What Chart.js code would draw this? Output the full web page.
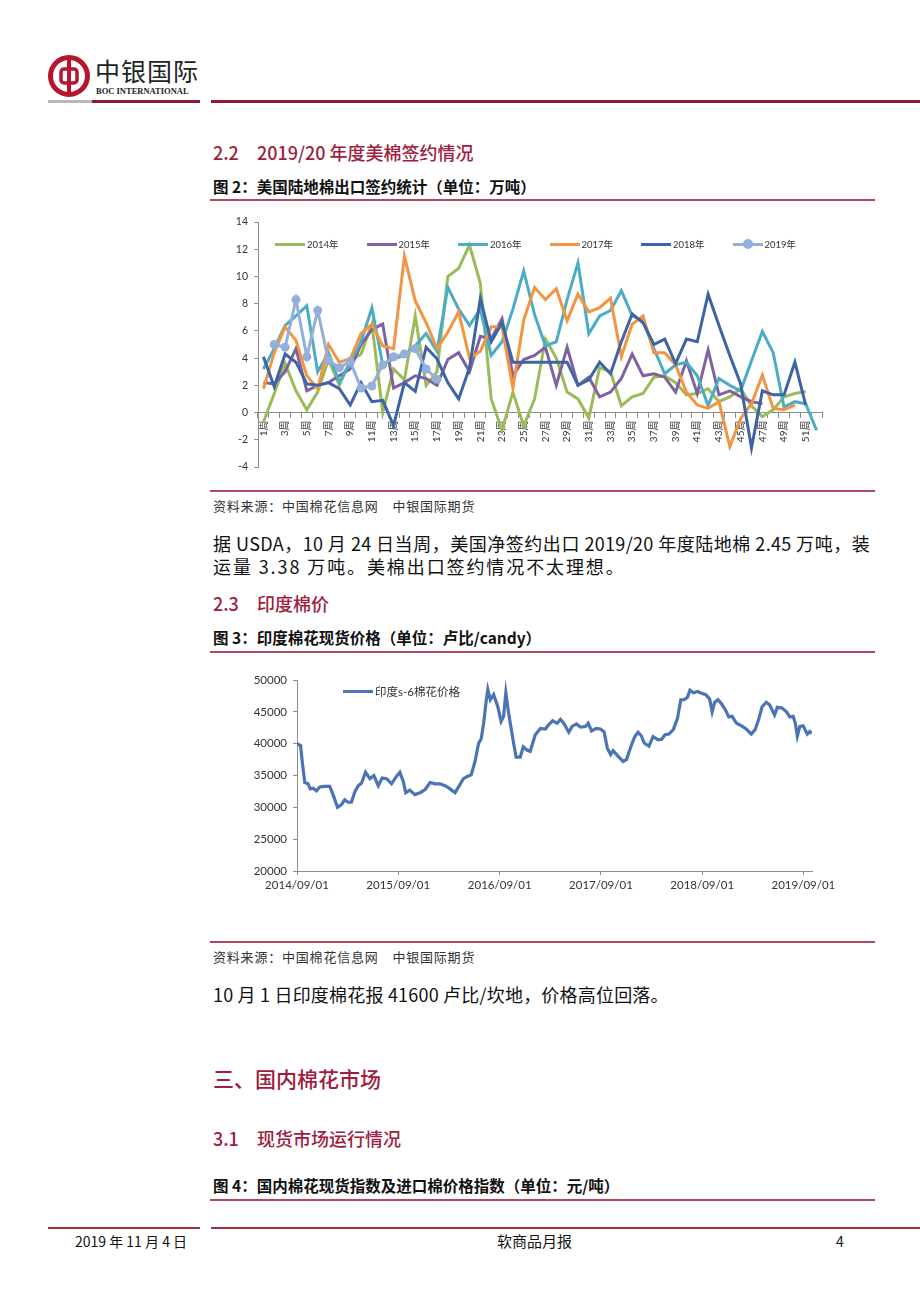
<!DOCTYPE html>
<html lang="zh">
<head>
<meta charset="utf-8">
<title>软商品月报</title>
<script src="https://cdn.jsdelivr.net/npm/chart.js@4.4.1/dist/chart.umd.min.js"></script>
<style>
  body { margin: 0; background: #fff; }
  #page { position: relative; width: 920px; height: 1302px; overflow: hidden; background: #fff;
          font-family: "Noto Sans CJK SC", sans-serif; color: #111; }
  .abs { position: absolute; white-space: nowrap; }
  .head { color: #A0203C; font-size: 18px; line-height: 22px; font-weight: 500; }
  .cap { font-size: 15.5px; line-height: 20px; font-weight: bold; color: #111; }
  .src { font-size: 13px; line-height: 18px; color: #333; letter-spacing: 0.8px; }
  .txt { font-size: 18px; line-height: 23px; color: #111; letter-spacing: 0.3px; }
  .rule { position: absolute; height: 1.5px; background: #B24A5C; }
  .legend { position: absolute; display: flex; font-family: Lato, "Noto Sans CJK SC", sans-serif; color: #333; }
  .legend .item { display: flex; align-items: center; }
  .legend .swatch { position: relative; width: 30px; height: 3px; margin-right: 2px; }
  .legend .dot { position: absolute; left: 10px; top: -3.5px; width: 10px; height: 10px; border-radius: 50%; }
</style>
</head>
<body>
<div id="page">
  <!-- header -->
  <svg class="abs" style="left:47px;top:54px" width="44" height="44" viewBox="0 0 44 44">
    <circle cx="22" cy="22" r="18.5" fill="none" stroke="#B5162B" stroke-width="5"/>
    <rect x="14" y="15" width="16" height="14" rx="3" fill="none" stroke="#B5162B" stroke-width="3.5"/>
    <rect x="20" y="3" width="4" height="38" fill="#B5162B"/>
  </svg>
  <div class="abs" style="left:95px;top:55px;font-size:25px;line-height:30px;color:#222;letter-spacing:1px;">中银国际</div>
  <div class="abs" style="left:96px;top:86px;font-family:'Liberation Serif',serif;font-weight:bold;font-size:8.5px;line-height:11px;color:#222;">BOC INTERNATIONAL</div>
  <div class="abs" style="left:48px;top:100px;width:44px;height:3px;background:#B8B8B8;"></div>
  <div class="abs" style="left:92px;top:100px;width:108px;height:3px;background:#8E1C2E;"></div>
  <div class="abs" style="left:211px;top:100px;width:709px;height:3px;background:#8E1C2E;"></div>

  <!-- section 2.2 -->
  <div class="abs head" style="left:213px;top:141px;">2.2<span style="margin-left:18px;">2019/20 年度美棉签约情况</span></div>
  <div class="abs cap" style="left:213px;top:176px;">图 2：美国陆地棉出口签约统计（单位：万吨）</div>
  <div class="rule" style="left:210px;top:199px;width:665px;"></div>
  <canvas id="c1" class="abs" style="left:210px;top:205px;width:625px;height:280px;" width="625" height="280"></canvas>
  <div id="leg1" class="legend" style="left:275px;top:236px;height:16px;font-size:9.5px;"></div>
  <div class="rule" style="left:210px;top:490px;width:665px;"></div>
  <div class="abs src" style="left:213px;top:497px;">资料来源：中国棉花信息网　中银国际期货</div>
  <div class="abs txt" style="left:213px;top:532px;width:657px;text-align:justify;text-align-last:justify;">据 USDA，10 月 24 日当周，美国净签约出口 2019/20 年度陆地棉 2.45 万吨，装</div>
  <div class="abs txt" style="left:213px;top:555px;letter-spacing:1.9px;">运量 3.38 万吨。美棉出口签约情况不太理想。</div>

  <!-- section 2.3 -->
  <div class="abs head" style="left:213px;top:592px;">2.3<span style="margin-left:18px;">印度棉价</span></div>
  <div class="abs cap" style="left:213px;top:627px;">图 3：印度棉花现货价格（单位：卢比/candy）</div>
  <div class="rule" style="left:210px;top:651px;width:665px;"></div>
  <canvas id="c2" class="abs" style="left:230px;top:665px;width:620px;height:240px;" width="620" height="240"></canvas>
  <div id="leg2" class="legend" style="left:343px;top:683px;height:16px;font-size:11.5px;"></div>
  <div class="rule" style="left:210px;top:941px;width:665px;"></div>
  <div class="abs src" style="left:213px;top:948px;">资料来源：中国棉花信息网　中银国际期货</div>
  <div class="abs txt" style="left:213px;top:983px;letter-spacing:0.2px;">10 月 1 日印度棉花报 41600 卢比/坎地，价格高位回落。</div>

  <!-- section 3 -->
  <div class="abs head" style="left:213px;top:1065px;font-size:21px;line-height:26px;">三、国内棉花市场</div>
  <div class="abs head" style="left:213px;top:1127px;">3.1<span style="margin-left:18px;">现货市场运行情况</span></div>
  <div class="abs cap" style="left:213px;top:1175px;">图 4：国内棉花现货指数及进口棉价格指数（单位：元/吨）</div>
  <div class="rule" style="left:210px;top:1199px;width:665px;"></div>

  <!-- footer -->
  <div class="abs" style="left:48px;top:1227px;width:152px;height:1.5px;background:#A0303F;"></div>
  <div class="abs" style="left:211px;top:1227px;width:709px;height:1.5px;background:#A0303F;"></div>
  <div class="abs" style="left:75px;top:1232px;font-size:14px;line-height:18px;">2019 年 11 月 4 日</div>
  <div class="abs" style="left:497px;top:1232px;font-size:15px;line-height:18px;">软商品月报</div>
  <div class="abs" style="left:836px;top:1232px;font-size:14px;line-height:18px;">4</div>
</div>

<script>
// 图2：美国陆地棉出口签约（万吨），按周
const weeks = Array.from({ length: 52 }, (_, i) => (i + 1) + '周');
const years = ['2014年', '2015年', '2016年', '2017年', '2018年', '2019年'];
const colors = ['#9BBB59', '#7F62A1', '#4BACC6', '#F39443', '#3D65A5', '#93AFDA'];

const s2014 = [-0.7, 1.4, 3.6, 1.6, 0.2, 1.5, 3.9, 2.0, 3.8, 4.3,
  6.5, 0.0, 3.2, 2.4, 7.1, 2.0, 3.0, 10.0, 10.6, 12.3,
  9.5, 1.0, -1.3, 1.5, -1.0, 1.0, 5.4, 4.0, 1.5, 1.0,
  -0.4, 3.3, 3.0, 0.5, 1.15, 1.4, 2.6, 2.7, 2.2, 1.3,
  1.4, 1.75, 0.8, 1.15, 1.75, 0.5, -0.3, 0.2, 1.15, 1.4,
  1.55, null];
const s2015 = [2.2, 2.1, 3.0, 4.7, 1.6, 2.0, 2.2, 2.7, 3.2, 5.0,
  6.1, 6.5, 1.8, 2.2, 2.7, 2.5, 2.0, 3.9, 4.4, 3.0,
  5.6, 5.4, 6.9, 2.7, 3.9, 4.2, 4.8, 2.0, 4.8, 2.0,
  2.6, 1.15, 1.5, 2.5, 4.3, 2.7, 2.85, 2.6, 1.5, 3.8,
  1.4, 4.6, 1.3, 1.6, 1.15, 0.8, 0.65, null, null, null,
  null, null];
const s2016 = [3.2, 4.7, 6.4, 7.1, 7.85, 3.0, 4.4, 2.2, 3.7, 5.2,
  7.7, 3.5, 3.95, 4.2, 4.9, 5.8, 4.5, 9.2, 7.6, 6.4,
  7.6, 4.2, 5.2, 7.6, 10.4, 7.2, 4.9, 5.2, 8.3, 11.0,
  5.8, 7.1, 7.5, 8.95, 7.1, 6.75, 4.7, 2.85, 3.5, 3.7,
  2.7, 0.5, 2.5, 2.0, 1.6, 3.8, 5.95, 4.4, 0.4, 0.8,
  0.65, -1.3];
const s2017 = [1.75, 4.4, 6.3, 5.3, 2.7, 1.75, 5.0, 3.7, 3.95, 5.8,
  6.5, 4.9, 4.7, 11.5, 8.2, 6.6, 4.7, 5.9, 7.4, 4.0,
  4.5, 6.3, 6.3, 1.8, 6.8, 9.2, 8.3, 9.1, 6.75, 8.7,
  7.4, 7.7, 8.4, 4.1, 6.5, 7.1, 4.4, 4.4, 3.5, 1.5,
  0.55, 0.3, 0.8, -2.5, -0.45, 0.65, 2.75, 0.3, 0.2, 0.55,
  null, null];
const s2018 = [4.1, 1.9, 4.3, 3.7, 2.1, 2.0, 2.2, 1.75, 0.55, 2.2,
  0.8, 0.9, -0.95, 2.2, 1.55, 4.8, 3.95, 2.2, 1.0, 3.3,
  8.4, 5.2, 6.6, 3.7, 3.7, 3.7, 3.7, 3.7, 3.7, 2.0,
  2.4, 3.7, 2.85, 5.2, 7.25, 6.6, 5.0, 5.4, 3.6, 5.4,
  5.2, 8.7, 6.4, 4.2, 2.1, -2.6, 1.6, 1.3, 1.3, 3.7,
  0.55, null];
const s2019 = [null, 5.0, 4.8, 8.3, 4.1, 7.5, 3.8, 3.3, 3.75, 1.8,
  1.95, 3.5, 4.1, 4.3, 4.7, 3.2, 2.45, null, null, null,
  null, null, null, null, null, null, null, null, null, null,
  null, null, null, null, null, null, null, null, null, null,
  null, null, null, null, null, null, null, null, null, null,
  null, null];
const series = [s2014, s2015, s2016, s2017, s2018, s2019];
const yTicks1 = { min: -4, max: 14, step: 2 };

// 图3：印度s-6棉花价格（卢比/candy）
const indiaDates = [
  '2014-09-01', '2014-09-14', '2014-09-19', '2014-09-29', '2014-10-11', '2014-10-19', '2014-10-29', '2014-11-10',
  '2014-11-22', '2014-12-10', '2014-12-28', '2015-01-09', '2015-01-25', '2015-02-08', '2015-02-20', '2015-03-04',
  '2015-03-16', '2015-03-29', '2015-04-10', '2015-04-22', '2015-05-06', '2015-05-22', '2015-06-05', '2015-06-21',
  '2015-07-05', '2015-07-21', '2015-08-08', '2015-08-26', '2015-09-07', '2015-09-19', '2015-09-28', '2015-10-13',
  '2015-10-31', '2015-11-19', '2015-12-07', '2015-12-25', '2016-01-12', '2016-01-30', '2016-02-17', '2016-03-06',
  '2016-03-24', '2016-04-11', '2016-04-23', '2016-05-09', '2016-05-21', '2016-06-04', '2016-06-17', '2016-06-26',
  '2016-07-05', '2016-07-13', '2016-07-20', '2016-07-29', '2016-08-10', '2016-08-25', '2016-09-06', '2016-09-15',
  '2016-09-23', '2016-10-03', '2016-10-13', '2016-10-21', '2016-10-30', '2016-11-14', '2016-11-25', '2016-12-08',
  '2016-12-20', '2017-01-07', '2017-01-26', '2017-02-13', '2017-02-25', '2017-03-11', '2017-03-27', '2017-04-08',
  '2017-04-20', '2017-05-08', '2017-05-20', '2017-06-05', '2017-06-19', '2017-07-07', '2017-07-17', '2017-07-29',
  '2017-08-15', '2017-08-30', '2017-09-12', '2017-09-24', '2017-10-06', '2017-10-15', '2017-11-02', '2017-11-20',
  '2017-12-02', '2017-12-20', '2018-01-01', '2018-01-13', '2018-01-25', '2018-02-04', '2018-02-21', '2018-03-08',
  '2018-03-26', '2018-04-08', '2018-04-20', '2018-05-04', '2018-05-20', '2018-06-04', '2018-06-16', '2018-06-28',
  '2018-07-10', '2018-07-19', '2018-07-31', '2018-08-16', '2018-08-30', '2018-09-14', '2018-09-28', '2018-10-07',
  '2018-10-16', '2018-10-28', '2018-11-09', '2018-11-24', '2018-12-06', '2018-12-18', '2019-01-03', '2019-01-21',
  '2019-02-07', '2019-02-25', '2019-03-11', '2019-03-23', '2019-04-05', '2019-04-20', '2019-05-02', '2019-05-20',
  '2019-05-30', '2019-06-16', '2019-07-02', '2019-07-14', '2019-07-26', '2019-08-03', '2019-08-10', '2019-08-19',
  '2019-08-31', '2019-09-15', '2019-09-24', '2019-10-01'];
const indiaPrice = [
  40000, 39700, 37500, 33900, 33700, 32900, 33000, 32600,
  33200, 33300, 33300, 32000, 30000, 30400, 31200, 30800,
  30800, 32500, 33400, 33800, 35500, 34500, 35000, 33400,
  34600, 34500, 33700, 34900, 35500, 34100, 32300, 32700,
  32000, 32300, 32800, 33900, 33700, 33700, 33400, 32900,
  32300, 33600, 34500, 34900, 35100, 37200, 40100, 40700,
  43200, 46300, 48500, 46900, 47700, 45800, 43500, 44300,
  48000, 44800, 42200, 40100, 37900, 37900, 39500, 39000,
  38800, 41400, 42400, 42300, 43000, 43600, 43200, 43800,
  43200, 41800, 42700, 43100, 42600, 42700, 43200, 42000,
  42400, 42300, 41900, 39300, 38300, 38900, 38000, 37200,
  37500, 39800, 41100, 41800, 41200, 40100, 39600, 41100,
  40600, 40700, 41400, 41500, 42200, 44000, 46900, 46900,
  47300, 48400, 48000, 48200, 47900, 47700, 47000, 45000,
  46500, 46900, 46300, 45300, 44200, 44300, 43200, 42800,
  42300, 41500, 42200, 43700, 45800, 46500, 46100, 44500,
  45700, 45600, 45000, 44200, 44300, 43200, 41200, 42700,
  42800, 41500, 41900, 41600];
const indiaTicks = ['2014-09-01', '2015-09-01', '2016-09-01', '2017-09-01', '2018-09-01', '2019-09-01'];
const indiaName = '印度s-6棉花价格';
const indiaColor = '#4A74B4';

Chart.defaults.font.family = 'Lato, "Noto Sans CJK SC", sans-serif';
Chart.defaults.color = '#333';
const axisGrey = '#8C8C8C';

// html legends
function addLegendItem(box, text, color, width, dot) {
  const item = document.createElement('div');
  item.className = 'item';
  if (width) item.style.width = width + 'px';
  const sw = document.createElement('span');
  sw.className = 'swatch';
  sw.style.background = color;
  if (dot) {
    const d = document.createElement('span');
    d.className = 'dot';
    d.style.background = color;
    sw.appendChild(d);
  }
  const t = document.createElement('span');
  t.textContent = text;
  item.appendChild(sw);
  item.appendChild(t);
  box.appendChild(item);
}
const leg1 = document.getElementById('leg1');
years.forEach((y, i) => addLegendItem(leg1, y, colors[i], 91.5, i === 5));
addLegendItem(document.getElementById('leg2'), indiaName, indiaColor, 0, false);

new Chart(document.getElementById('c1'), {
  type: 'line',
  data: {
    labels: weeks,
    datasets: years.map((y, i) => ({
      label: y,
      data: series[i],
      borderColor: colors[i],
      backgroundColor: colors[i],
      borderWidth: 3,
      pointRadius: i === 5 ? 4.5 : 0,
      pointBorderWidth: 0,
      tension: 0,
      order: 6 - i
    }))
  },
  options: {
    responsive: false,
    animation: false,
    layout: { padding: { left: 0, right: 13, top: 17, bottom: 18 } },
    plugins: { legend: { display: false }, tooltip: { enabled: false } },
    scales: {
      x: {
        type: 'category',
        position: { y: 0 },
        offset: true,
        grid: { drawOnChartArea: false, offset: true, tickLength: 5, color: axisGrey },
        border: { color: axisGrey },
        ticks: {
          autoSkip: false, minRotation: 90, maxRotation: 90, padding: 3,
          font: { size: 10 },
          callback: (v, i) => (i % 2 === 0 ? weeks[i] : '')
        }
      },
      y: {
        min: yTicks1.min, max: yTicks1.max,
        ticks: { stepSize: yTicks1.step, padding: 6, font: { size: 10.5 } },
        grid: { drawOnChartArea: false, tickLength: 4, color: axisGrey },
        border: { color: axisGrey },
        afterFit: (s) => { s.width = 48; }
      }
    }
  }
});

const toTime = (d) => Date.parse(d + 'T00:00:00Z');
const fmtDate = (v) => {
  const d = new Date(v);
  const mm = String(d.getUTCMonth() + 1).padStart(2, '0');
  const dd = String(d.getUTCDate()).padStart(2, '0');
  return d.getUTCFullYear() + '/' + mm + '/' + dd;
};

new Chart(document.getElementById('c2'), {
  type: 'line',
  data: {
    datasets: [{
      label: indiaName,
      data: indiaDates.map((d, i) => ({ x: toTime(d), y: indiaPrice[i] })),
      borderColor: indiaColor,
      borderWidth: 3.2,
      pointRadius: 0,
      tension: 0
    }]
  },
  options: {
    responsive: false,
    animation: false,
    layout: { padding: { left: 0, right: 38, top: 15, bottom: 9 } },
    plugins: { legend: { display: false }, tooltip: { enabled: false } },
    scales: {
      x: {
        type: 'linear',
        min: toTime('2014-09-01'),
        max: toTime('2019-10-02'),
        afterBuildTicks: (s) => { s.ticks = indiaTicks.map((d) => ({ value: toTime(d) })); },
        grid: { drawOnChartArea: false, tickLength: 4, color: axisGrey },
        border: { color: axisGrey },
        ticks: { autoSkip: false, maxRotation: 0, padding: 3, font: { size: 11.5 }, callback: (v) => fmtDate(v) },
        afterFit: (s) => { s.height = 25; }
      },
      y: {
        min: 20000, max: 50000,
        ticks: { stepSize: 5000, padding: 6, font: { size: 11.5 }, callback: (v) => String(v) },
        grid: { drawOnChartArea: false, tickLength: 4, color: axisGrey },
        border: { color: axisGrey },
        afterFit: (s) => { s.width = 67; }
      }
    }
  }
});
</script>
</body>
</html>
